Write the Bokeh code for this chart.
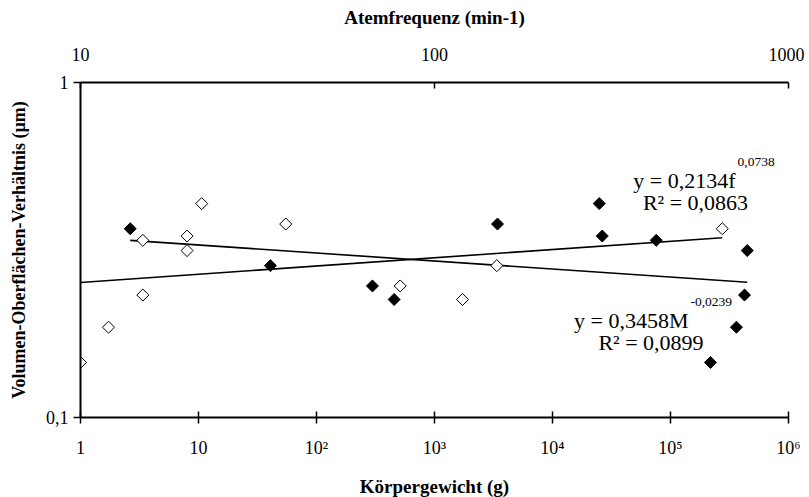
import numpy as np
from bokeh.plotting import figure
from bokeh.models import LogAxis, LogScale, Range1d, FixedTicker, Label
from bokeh.embed import file_html
from bokeh.resources import INLINE

# ---- data (one entry per species) ----
volume_ratio = [0.146, 0.186, 0.232, 0.338, 0.348, 0.315, 0.435, 0.378, 0.247, 0.225, 0.284, 0.366]
body_mass_g = [218000, 362000, 424000, 75700, 26400, 447000, 24900, 3420, 298, 455, 40.7, 2.64]
breath_freq = [10, 12, 15, 15, 20, 20, 22, 38, 80, 120, 150, 650]

# power-law fits shown on the chart: y = a * x^b
mass_fit_a, mass_fit_b = 0.3458, -0.0239
freq_fit_a, freq_fit_b = 0.2134, 0.0738

mass_ticks = [1, 10, 100, 1000, 10000, 100000, 1000000]
mass_tick_labels = ["1", "10", "10²", "10³", "10⁴", "10⁵", "10⁶"]
freq_ticks = [10, 100, 1000]
freq_tick_labels = ["10", "100", "1000"]
y_ticks = [0.1, 1]
y_tick_labels = ["0,1", "1"]

FONT = "'Liberation Serif', 'Times New Roman', serif"

p = figure(frame_width=708, frame_height=335,
           x_axis_type="log", y_axis_type="log",
           x_range=Range1d(1, 1e6), y_range=Range1d(0.1, 1),
           output_backend="svg", toolbar_location=None,
           min_border_left=80, min_border_right=16,
           min_border_top=82, min_border_bottom=78)
p.extra_x_ranges = {"freq": Range1d(10, 1000)}
p.extra_x_scales = {"freq": LogScale()}

p.xgrid.visible = False
p.ygrid.visible = False
p.outline_line_color = None
p.background_fill_color = "white"
p.border_fill_color = "white"

def style(ax):
    ax.axis_line_color = "black"
    ax.axis_line_width = 2
    ax.major_tick_line_color = "black"
    ax.major_tick_line_width = 1.5
    ax.minor_tick_line_color = None
    ax.major_label_text_font = FONT
    ax.major_label_text_font_size = "18px"
    ax.major_label_text_color = "black"
    ax.axis_label_text_font = FONT
    ax.axis_label_text_font_style = "bold"
    ax.axis_label_text_font_size = "19px"
    ax.axis_label_text_color = "black"

xa = p.xaxis[0]
style(xa)
xa.ticker = FixedTicker(ticks=mass_ticks)
xa.major_label_overrides = {t: l for t, l in zip(mass_ticks, mass_tick_labels)}
xa.axis_label = "Körpergewicht (g)"
xa.major_tick_in = 6
xa.major_tick_out = 6
xa.major_label_standoff = 14
xa.axis_label_standoff = 15

ya = p.yaxis[0]
style(ya)
ya.ticker = FixedTicker(ticks=y_ticks)
ya.major_label_overrides = {t: l for t, l in zip(y_ticks, y_tick_labels)}
ya.axis_label = "Volumen-Oberflächen-Verhältnis (µm)"
ya.axis_label_text_font_size = "18px"
ya.major_tick_in = 0
ya.major_tick_out = 7
ya.major_label_standoff = 5
ya.axis_label_standoff = 14

top = LogAxis(x_range_name="freq", ticker=FixedTicker(ticks=freq_ticks))
style(top)
top.major_label_overrides = {t: l for t, l in zip(freq_ticks, freq_tick_labels)}
top.axis_label = "Atemfrequenz (min-1)"
top.major_tick_in = 6
top.major_tick_out = 0
top.major_label_standoff = 22
top.axis_label_standoff = 17
p.add_layout(top, "above")

# trend lines over each data range
mx = np.array([min(body_mass_g), max(body_mass_g)], dtype=float)
p.line(mx, mass_fit_a * mx ** mass_fit_b, line_color="black", line_width=1.6)
fx = np.array([min(breath_freq), max(breath_freq)], dtype=float)
p.line(fx, freq_fit_a * fx ** freq_fit_b, line_color="black", line_width=1.6,
       x_range_name="freq")

# points
p.scatter(body_mass_g, volume_ratio, marker="square", angle=np.pi / 4, size=8.5,
          fill_color="black", line_color="black", line_width=1)
p.scatter(breath_freq, volume_ratio, marker="square", angle=np.pi / 4, size=8.5,
          fill_color="white", line_color="black", line_width=1, x_range_name="freq")

# equations (positioned in body-mass data coordinates)
def lab(x, y, text, size, align):
    p.add_layout(Label(x=x, y=y, text=text, text_font=FONT, text_font_size=size,
                       text_color="black", text_align=align,
                       text_baseline="alphabetic"))

lab(355500, 0.511, "y = 0,2134f", "22px", "right")
lab(369700, 0.581, "0,0738", "13.5px", "left")
lab(162900, 0.4385, "R² = 0,0863", "22px", "center")
lab(142100, 0.1947, "y = 0,3458M", "22px", "right")
lab(147700, 0.2219, "-0,0239", "13.5px", "left")
lab(68330, 0.1674, "R² = 0,0899", "22px", "center")

open("out.html", "w").write(file_html(p, INLINE))
